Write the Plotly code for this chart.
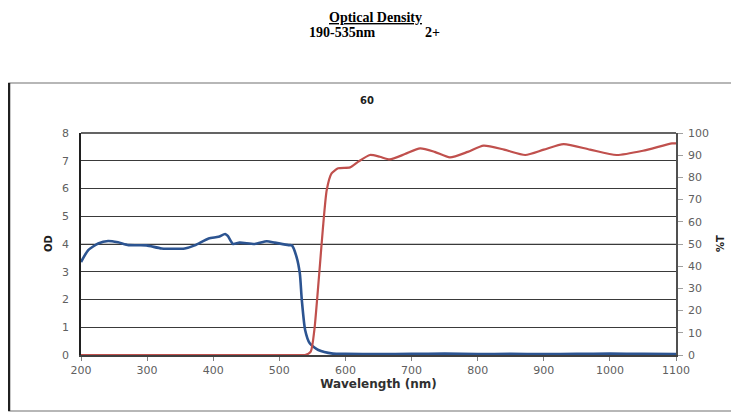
import plotly.graph_objects as go

# Optical density (left axis)
wl_od = [200, 211, 226, 241, 256, 272, 299, 322, 357, 372, 393, 408, 418, 422, 430,
         440, 463, 481, 493, 514, 519, 526, 531, 534, 539, 546, 559, 581, 600, 650,
         700, 750, 800, 850, 900, 950, 1000, 1050, 1100]
od = [3.35, 3.78, 4.02, 4.11, 4.06, 3.96, 3.95, 3.84, 3.84, 3.95, 4.2, 4.26, 4.36, 4.29, 4.0,
      4.05, 4.0, 4.1, 4.05, 3.96, 3.95, 3.54, 2.94, 1.98, 0.9, 0.42, 0.18, 0.05, 0.04, 0.03,
      0.04, 0.05, 0.03, 0.04, 0.03, 0.04, 0.05, 0.04, 0.03]

# Transmission (right axis)
wl_t = [200, 300, 400, 500, 530, 539, 547.5, 553, 557.5, 561.6, 565.7, 571.7, 579, 589, 607,
        619.5, 637, 652, 667, 690, 713, 735, 758, 785, 809, 840, 872, 900, 930, 970, 1010,
        1050, 1094, 1100]
t = [0, 0, 0, 0, 0, 0, 1.5, 11.3, 26.3, 41.3, 56.3, 74.3, 81.8, 84.1, 84.5,
     87.1, 90.1, 89.3, 88.1, 90.5, 93.1, 91.5, 89, 91.5, 94.3, 92.5, 90.1, 92.5, 95, 92.5, 90.1,
     92, 95.3, 95.3]

x_ticks = [200, 300, 400, 500, 600, 700, 800, 900, 1000, 1100]
od_ticks = [0, 1, 2, 3, 4, 5, 6, 7, 8]
t_ticks = [0, 10, 20, 30, 40, 50, 60, 70, 80, 90, 100]

fig = go.Figure()
fig.add_trace(go.Scatter(x=wl_t, y=t, yaxis="y2", mode="lines",
                         line=dict(color="#C0504D", width=2.2, shape="spline", smoothing=0.6),
                         showlegend=False, hoverinfo="skip"))
fig.add_trace(go.Scatter(x=wl_od, y=od, mode="lines",
                         line=dict(color="#2C5491", width=2.6, shape="spline", smoothing=0.6),
                         showlegend=False, hoverinfo="skip"))

tickfont = dict(family="DejaVu Sans", size=11, color="#606060")


def px_x(px):
    return (px - 81) / 595


def px_y(py):
    return (355 - py) / 222


def label(text, x, y, family, size, color, angle=0, yanchor="middle"):
    return dict(text=text, xref="paper", yref="paper", x=px_x(x), y=px_y(y),
                xanchor="center", yanchor=yanchor, showarrow=False, textangle=angle,
                borderpad=0, font=dict(family=family, size=size, color=color))


# page body has an 8px offset; plot area spans x 81..676, y 133..355 on the page
fig.update_layout(
    width=731, height=405,
    margin=dict(l=73, r=63, t=125, b=58),
    paper_bgcolor="white", plot_bgcolor="white",
    xaxis=dict(range=[200, 1100], tickvals=x_ticks, ticks="outside", ticklen=4,
               tickcolor="#808080", showgrid=False, zeroline=False,
               showline=True, linecolor="#404040", linewidth=1.5,
               tickfont=tickfont,
               title=dict(text="<b>Wavelength (nm)</b>", standoff=4,
                          font=dict(family="DejaVu Sans", size=12, color="#303030"))),
    yaxis=dict(range=[0, 8], tickvals=od_ticks, ticks="", showgrid=True,
               gridcolor="#3a3a3a", gridwidth=1.4, zeroline=False,
               showline=True, linecolor="#202020", linewidth=1.8,
               tickfont=tickfont, ticklabelstandoff=8),
    yaxis2=dict(range=[0, 100], tickvals=t_ticks, overlaying="y", side="right",
                ticks="outside", ticklen=5, tickcolor="#a0a0a0", showgrid=False,
                zeroline=False, showline=True, linecolor="#505050", linewidth=1.5,
                tickfont=tickfont, ticklabelstandoff=3),
    shapes=[
        dict(type="line", xref="paper", yref="y", x0=0, x1=1, y0=4, y1=4,
             line=dict(color="#b8b8b8", width=1.6), layer="below"),
        dict(type="line", xref="paper", yref="paper", x0=0, x1=1, y0=1, y1=1,
             line=dict(color="#303030", width=1.5)),
        dict(type="rect", xref="paper", yref="paper", x0=px_x(9), x1=px_x(733),
             y0=px_y(411), y1=px_y(83), line=dict(color="#a0a0a0", width=1.5)),
        dict(type="line", xref="paper", yref="paper", x0=px_x(9), x1=px_x(9),
             y0=px_y(411), y1=px_y(83), line=dict(color="#202020", width=2.5)),
    ],
    annotations=[
        label("<b><u>Optical Density</u></b>", 375, 8.5, "Liberation Serif", 14, "black",
              yanchor="top"),
        label("<b>190-535nm</b>", 342, 32, "Liberation Serif", 14, "black"),
        label("<b>2+</b>", 432, 32, "Liberation Serif", 14, "black"),
        label("<b>60</b>", 367, 100, "DejaVu Sans", 10, "#202020"),
        label("<b>OD</b>", 48, 244, "DejaVu Sans", 10, "#202020", -90),
        label("<b>%T</b>", 720, 244, "DejaVu Sans", 10, "#202020", -90),
    ],
)

fig.write_html("out.html")
